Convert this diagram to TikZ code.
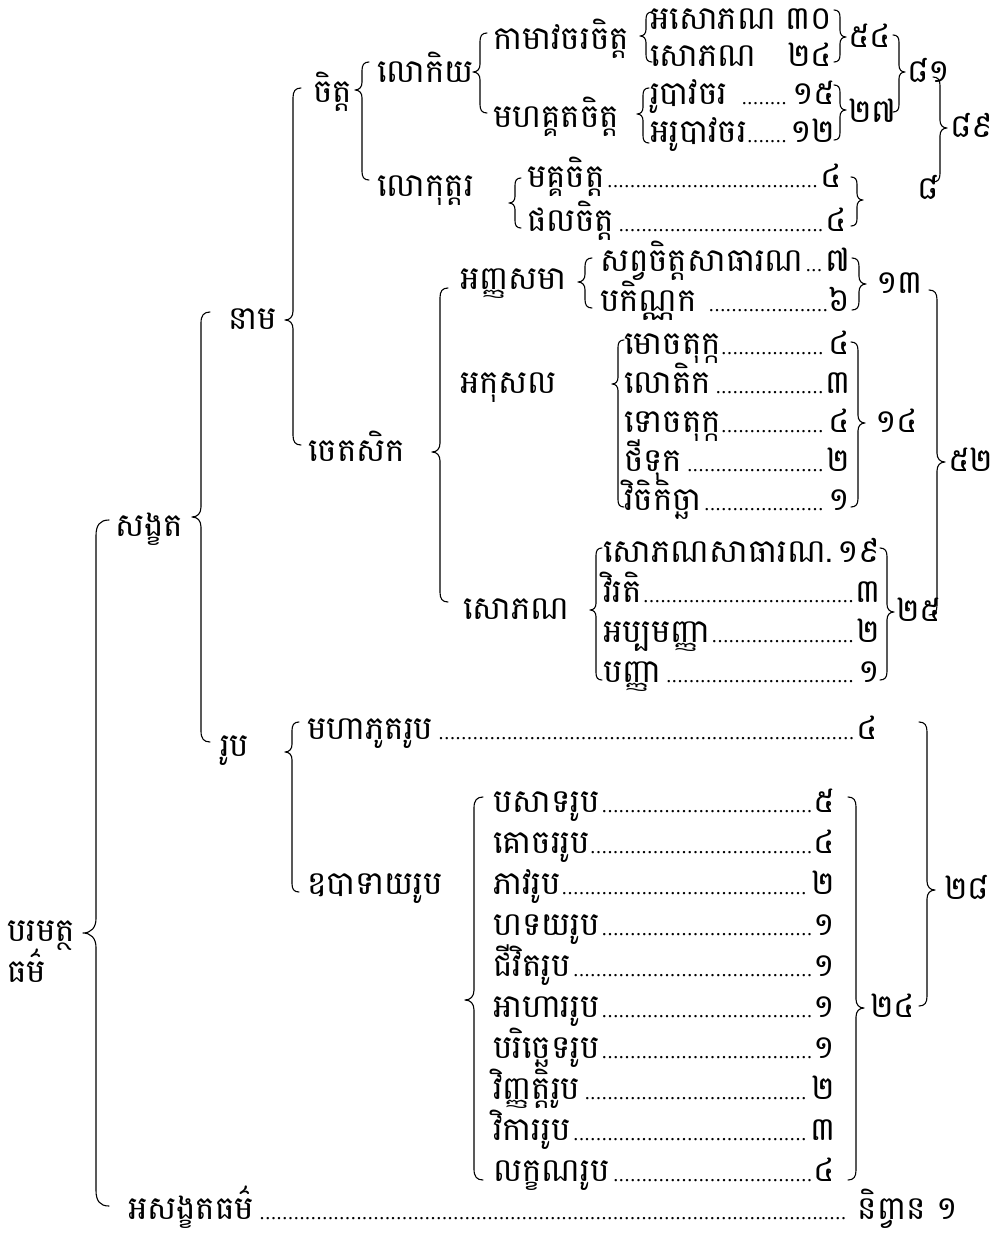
\documentclass[tikz,border=0pt]{standalone}
\usepackage{fontspec}
\newfontfamily\kh[Script=Khmer]{Battambang}
\newfontfamily\lat{Liberation Serif}
% fit the Khmer font size to widths measured on the reference
\newlength\probe
\settowidth\probe{\kh\fontsize{10}{12}\selectfont អសង្ខតធម៌លោកិយកាមាវចរចិត្តសង្ខតបរមត្ថអញ្ញសមាសោភណ}
\pgfmathsetmacro\ksz{7070/\probe}
\pgfmathsetmacro\kbs{1.2*\ksz}
\pgfmathsetmacro\off{0.3*\ksz}
\newcommand\khsize{\fontsize{\ksz}{\kbs}\selectfont}
\newcommand\dotlead{\leaders\hbox to 5.7pt{\hss{\lat\fontsize{20}{20}\selectfont .}\hss}\hfill}
% left brace: x, top, tip, bottom, depth
\newcommand\LBr[5]{\draw[br] (#1+#5,#2) .. controls (#1+0.3*#5,#2) and (#1,#2+0.4*#5) .. (#1,#2+1.2*#5) -- (#1,#3-1.1*#5) .. controls (#1,#3-0.4*#5) and (#1-0.4*#5,#3) .. (#1-#5,#3) .. controls (#1-0.4*#5,#3) and (#1,#3+0.4*#5) .. (#1,#3+1.1*#5) -- (#1,#4-1.2*#5) .. controls (#1,#4-0.4*#5) and (#1+0.3*#5,#4) .. (#1+#5,#4);}
% right brace: x, top, tip, bottom, depth
\newcommand\RBr[5]{\draw[br] (#1-#5,#2) .. controls (#1-0.3*#5,#2) and (#1,#2+0.4*#5) .. (#1,#2+1.2*#5) -- (#1,#3-1.1*#5) .. controls (#1,#3-0.4*#5) and (#1+0.4*#5,#3) .. (#1+#5,#3) .. controls (#1+0.4*#5,#3) and (#1,#3+0.4*#5) .. (#1,#3+1.1*#5) -- (#1,#4-1.2*#5) .. controls (#1,#4-0.4*#5) and (#1-0.3*#5,#4) .. (#1-#5,#4);}
\begin{document}
\begin{tikzpicture}[x=1pt,y=-1pt,
  t/.style={anchor=base west, inner sep=0pt, font=\kh\khsize},
  br/.style={line width=1.1pt, line cap=round, line join=round}]
\useasboundingbox (0,0) rectangle (995,1243);
\fill[white] (0,0) rectangle (995,1243);
% ---- column 1
\node[t] (param) at (7,932+\off) {បរមត្ថ};
\node[t] (dhamma) at (7,973+\off) {ធម៌};
\node[t] (sank) at (115,527+\off) {សង្ខត};
\node[t] (nama) at (228,320+\off) {នាម};
\node[t] (rupa) at (220,747+\off) {រូប};
\node[t] (citta) at (313,93+\off) {ចិត្ត};
\node[t] (ceta) at (308,452+\off) {ចេតសិក};
\node[t] (lokiya) at (377,73+\off) {លោកិយ};
\node[t] (lokut) at (377,187+\off) {លោកុត្តរ};
\node[t] (kama) at (493,40+\off) {កាមាវចរចិត្ត};
\node[t] (mahag) at (493,118+\off) {មហគ្គតចិត្ត};
\node[t] (k1) at (650,20+\off) {\hbox to 182pt{អសោភណ\hfill ៣០}};
\node[t] (k2) at (650,57+\off) {\hbox to 182pt{សោភណ\hfill ២៤}};
\node[t] (m1) at (650,95+\off) {\hbox to 185pt{រូបាវចរ\ \dotlead ១៥}};
\node[t] (m2) at (650,133+\off) {\hbox to 185pt{អរូបាវចរ\dotlead ១២}};
\node[t] (n54) at (848,38+\off) {៥៤};
\node[t] (n27) at (848,113+\off) {២៧};
\node[t] (n81) at (907,73+\off) {៨១};
\node[t] (n89) at (950,128+\off) {៨៩};
\node[t] (n8) at (917,190+\off) {៨};
\node[t] (mg) at (527,178+\off) {\hbox to 315pt{មគ្គចិត្ត\dotlead ៤}};
\node[t] (ph) at (527,222+\off) {\hbox to 320pt{ផលចិត្ត\dotlead ៤}};
% ---- cetasika
\node[t] (anna) at (460,280+\off) {អញ្ញសមា};
\node[t] (a1) at (600,262+\off) {\hbox to 250pt{សព្វចិត្តសាធារណ\dotlead ៧}};
\node[t] (a2) at (600,302+\off) {\hbox to 250pt{បកិណ្ណក\ \dotlead ៦}};
\node[t] (n13) at (876,284+\off) {១៣};
\node[t] (akus) at (460,384+\off) {អកុសល};
\node[t] (ak1) at (624,345+\off) {\hbox to 226pt{មោចតុក្ក\dotlead ៤}};
\node[t] (ak2) at (624,384+\off) {\hbox to 226pt{លោតិក\dotlead ៣}};
\node[t] (ak3) at (624,423+\off) {\hbox to 226pt{ទោចតុក្ក\dotlead ៤}};
\node[t] (ak4) at (624,462+\off) {\hbox to 226pt{ថីទុក\dotlead ២}};
\node[t] (ak5) at (624,501+\off) {\hbox to 226pt{វិចិកិច្ឆា\dotlead ១}};
\node[t] (n14) at (875,423+\off) {១៤};
\node[t] (sobh) at (463,610+\off) {សោភណ};
\node[t] (so1) at (603,553+\off) {\hbox to 277pt{សោភណសាធារណ.\hfill ១៩}};
\node[t] (so2) at (603,593+\off) {\hbox to 277pt{វិរតិ\dotlead ៣}};
\node[t] (so3) at (603,633+\off) {\hbox to 277pt{អប្បមញ្ញា\dotlead ២}};
\node[t] (so4) at (603,673+\off) {\hbox to 277pt{បញ្ញា\dotlead ១}};
\node[t] (n25) at (896,612+\off) {២៥};
\node[t] (n52) at (948,462+\off) {៥២};
% ---- rupa
\node[t] (mbh) at (307,730+\off) {\hbox to 571pt{មហាភូតរូប\dotlead ៤}};
\node[t] (upa) at (307,885+\off) {ឧបាទាយរូប};
\node[t] (u1) at (493,803+\off) {\hbox to 342pt{បសាទរូប\dotlead ៥}};
\node[t] (u2) at (493,844+\off) {\hbox to 342pt{គោចររូប\dotlead ៤}};
\node[t] (u3) at (493,885+\off) {\hbox to 342pt{ភាវរូប\dotlead ២}};
\node[t] (u4) at (493,926+\off) {\hbox to 342pt{ហទយរូប\dotlead ១}};
\node[t] (u5) at (493,967+\off) {\hbox to 342pt{ជីវិតរូប\dotlead ១}};
\node[t] (u6) at (493,1008+\off) {\hbox to 342pt{អាហាររូប\dotlead ១}};
\node[t] (u7) at (493,1049+\off) {\hbox to 342pt{បរិច្ឆេទរូប\dotlead ១}};
\node[t] (u8) at (493,1090+\off) {\hbox to 342pt{វិញ្ញត្តិរូប\dotlead ២}};
\node[t] (u9) at (493,1131+\off) {\hbox to 342pt{វិការរូប\dotlead ៣}};
\node[t] (u10) at (493,1172+\off) {\hbox to 342pt{លក្ខណរូប\dotlead ៤}};
\node[t] (n24) at (870,1008+\off) {២៤};
\node[t] (n28) at (944,890+\off) {២៨};
\node[t] (asank) at (128,1210+\off) {\hbox to 830pt{អសង្ខតធម៌\dotlead\ និព្វាន ១}};
% ---- left braces
\LBr{96}{520}{933}{1206}{13}
\LBr{201}{312}{517}{742}{9}
\LBr{293}{88}{320}{445}{8}
\LBr{362}{62}{90}{180}{7}
\LBr{480}{33}{72}{113}{7}
\LBr{646}{12}{36}{62}{6}
\LBr{643}{88}{114}{143}{6}
\LBr{515}{178}{203}{228}{6}
\LBr{440}{288}{452}{602}{8}
\LBr{585}{258}{282}{308}{7}
\LBr{618}{340}{384}{507}{6}
\LBr{596}{548}{610}{680}{6}
\LBr{292}{722}{752}{892}{7}
\LBr{474}{797}{1000}{1180}{9}
% ---- right braces
\RBr{840}{10}{37}{62}{6}
\RBr{840}{85}{110}{140}{6}
\RBr{899}{35}{72}{112}{6}
\RBr{940}{77}{128}{182}{7}
\RBr{857}{177}{200}{226}{6}
\RBr{859}{258}{284}{310}{7}
\RBr{858}{342}{423}{507}{7}
\RBr{887}{548}{612}{680}{7}
\RBr{937}{290}{462}{615}{8}
\RBr{856}{797}{1008}{1180}{8}
\RBr{927}{722}{890}{1006}{8}
\end{tikzpicture}
\end{document}
